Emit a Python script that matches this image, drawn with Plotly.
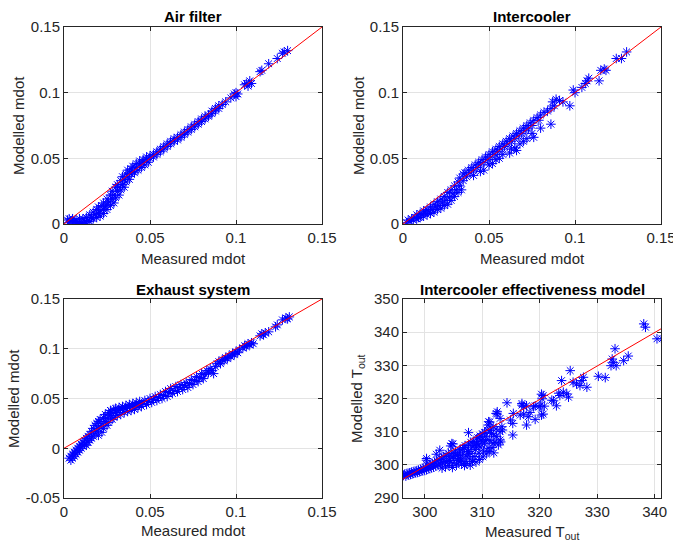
import plotly.graph_objects as go

# Measured vs modelled mass flow (x, y)
air_points = [
    (0.002, 0.003), (0.003, 0.004), (0.003, 0.001), (0.004, 0.002), (0.005, 0.004), (0.005, 0.000),
    (0.006, 0.002), (0.007, 0.003), (0.007, 0.000), (0.008, 0.001), (0.009, 0.004), (0.009, -0.001),
    (0.010, 0.001), (0.011, 0.004), (0.011, 0.000), (0.012, 0.002), (0.013, 0.005), (0.013, 0.001),
    (0.014, 0.003), (0.015, 0.007), (0.015, 0.002), (0.016, 0.005), (0.017, 0.009), (0.017, 0.004),
    (0.018, 0.007), (0.019, 0.011), (0.019, 0.005), (0.020, 0.008), (0.020, 0.013), (0.021, 0.010),
    (0.021, 0.006), (0.022, 0.014), (0.023, 0.011), (0.023, 0.016), (0.023, 0.008), (0.024, 0.013),
    (0.025, 0.019), (0.025, 0.011), (0.025, 0.015), (0.026, 0.017), (0.027, 0.022), (0.027, 0.014),
    (0.028, 0.019), (0.028, 0.025), (0.029, 0.016), (0.029, 0.022), (0.030, 0.028), (0.030, 0.020),
    (0.031, 0.025), (0.031, 0.030), (0.032, 0.022), (0.032, 0.028), (0.033, 0.033), (0.033, 0.026),
    (0.034, 0.030), (0.034, 0.036), (0.035, 0.028), (0.035, 0.034), (0.036, 0.038), (0.036, 0.032),
    (0.037, 0.036), (0.037, 0.041), (0.038, 0.034), (0.038, 0.039), (0.039, 0.042), (0.039, 0.038),
    (0.040, 0.040), (0.040, 0.044), (0.041, 0.039), (0.042, 0.043), (0.042, 0.046), (0.043, 0.041),
    (0.044, 0.045), (0.044, 0.048), (0.045, 0.043), (0.046, 0.047), (0.046, 0.049), (0.047, 0.045),
    (0.048, 0.049), (0.048, 0.051), (0.049, 0.047), (0.050, 0.050), (0.050, 0.052), (0.052, 0.051),
    (0.052, 0.053), (0.054, 0.053), (0.054, 0.055), (0.056, 0.055), (0.056, 0.057), (0.058, 0.057),
    (0.058, 0.059), (0.060, 0.059), (0.060, 0.061), (0.062, 0.061), (0.062, 0.063), (0.064, 0.063),
    (0.064, 0.065), (0.066, 0.064), (0.066, 0.066), (0.068, 0.066), (0.068, 0.068), (0.070, 0.068),
    (0.070, 0.070), (0.072, 0.070), (0.072, 0.072), (0.074, 0.072), (0.074, 0.074), (0.076, 0.074),
    (0.076, 0.076), (0.078, 0.076), (0.078, 0.078), (0.080, 0.078), (0.080, 0.080), (0.082, 0.080),
    (0.082, 0.082), (0.084, 0.082), (0.084, 0.083), (0.086, 0.084), (0.086, 0.086), (0.088, 0.086),
    (0.088, 0.088), (0.090, 0.088), (0.090, 0.090), (0.092, 0.091), (0.094, 0.093), (0.097, 0.096),
    (0.099, 0.099), (0.100, 0.097), (0.100, 0.100), (0.101, 0.099), (0.105, 0.106), (0.106, 0.107),
    (0.107, 0.105), (0.108, 0.109), (0.109, 0.107), (0.114, 0.116), (0.115, 0.117), (0.119, 0.122),
    (0.124, 0.126), (0.127, 0.130), (0.128, 0.131), (0.130, 0.132),
]

intercooler_points = [
    (0.002, 0.001), (0.003, 0.003), (0.004, 0.002), (0.005, 0.004), (0.006, 0.003), (0.007, 0.005),
    (0.008, 0.004), (0.008, 0.007), (0.009, 0.005), (0.010, 0.008), (0.010, 0.005), (0.011, 0.007),
    (0.012, 0.010), (0.012, 0.006), (0.013, 0.009), (0.014, 0.011), (0.014, 0.007), (0.015, 0.010),
    (0.016, 0.013), (0.016, 0.008), (0.017, 0.011), (0.018, 0.015), (0.018, 0.009), (0.019, 0.013),
    (0.020, 0.017), (0.020, 0.011), (0.021, 0.014), (0.022, 0.019), (0.022, 0.012), (0.023, 0.016),
    (0.024, 0.021), (0.024, 0.014), (0.025, 0.018), (0.026, 0.024), (0.026, 0.015), (0.027, 0.020),
    (0.028, 0.026), (0.028, 0.018), (0.029, 0.023), (0.030, 0.029), (0.030, 0.021), (0.031, 0.026),
    (0.032, 0.032), (0.032, 0.024), (0.033, 0.035), (0.033, 0.029), (0.034, 0.026), (0.035, 0.038),
    (0.035, 0.033), (0.036, 0.039), (0.037, 0.036), (0.038, 0.041), (0.039, 0.039), (0.040, 0.043),
    (0.041, 0.041), (0.042, 0.045), (0.043, 0.043), (0.044, 0.047), (0.045, 0.045), (0.046, 0.049),
    (0.047, 0.047), (0.048, 0.051), (0.049, 0.049), (0.050, 0.053), (0.051, 0.051), (0.052, 0.055),
    (0.053, 0.053), (0.054, 0.057), (0.055, 0.055), (0.056, 0.059), (0.057, 0.057), (0.058, 0.061),
    (0.059, 0.059), (0.060, 0.063), (0.061, 0.061), (0.062, 0.065), (0.063, 0.063), (0.064, 0.067),
    (0.065, 0.065), (0.066, 0.069), (0.067, 0.067), (0.068, 0.071), (0.069, 0.069), (0.070, 0.073),
    (0.071, 0.071), (0.072, 0.075), (0.073, 0.073), (0.074, 0.077), (0.075, 0.075), (0.076, 0.079),
    (0.078, 0.081), (0.079, 0.079), (0.080, 0.083), (0.082, 0.085), (0.084, 0.086), (0.086, 0.088),
    (0.087, 0.093), (0.088, 0.090), (0.089, 0.095), (0.091, 0.094), (0.093, 0.093), (0.099, 0.102),
    (0.100, 0.100), (0.104, 0.104), (0.106, 0.107), (0.107, 0.109), (0.108, 0.111), (0.115, 0.117),
    (0.117, 0.118), (0.118, 0.117), (0.124, 0.126), (0.127, 0.126), (0.130, 0.131),
    (0.041, 0.037), (0.045, 0.040), (0.047, 0.041), (0.050, 0.045), (0.052, 0.046), (0.054, 0.049),
    (0.056, 0.050), (0.058, 0.053), (0.062, 0.054), (0.063, 0.057), (0.065, 0.058), (0.066, 0.056),
    (0.068, 0.061), (0.070, 0.063), (0.072, 0.065), (0.075, 0.069), (0.076, 0.066), (0.080, 0.073),
    (0.086, 0.076), (0.097, 0.090), (0.114, 0.109),
]

exhaust_points = [
    (0.003, -0.010), (0.004, -0.008), (0.004, -0.012), (0.005, -0.006), (0.005, -0.010), (0.006, -0.004),
    (0.006, -0.008), (0.007, -0.006), (0.007, -0.002), (0.008, -0.004), (0.008, 0.000), (0.009, -0.002),
    (0.009, 0.002), (0.010, 0.000), (0.010, 0.004), (0.011, 0.002), (0.011, 0.006), (0.012, 0.004),
    (0.012, 0.008), (0.013, 0.003), (0.013, 0.010), (0.014, 0.006), (0.014, 0.012), (0.015, 0.008),
    (0.015, 0.014), (0.016, 0.010), (0.016, 0.017), (0.017, 0.012), (0.017, 0.020), (0.018, 0.015),
    (0.018, 0.023), (0.019, 0.017), (0.019, 0.025), (0.020, 0.020), (0.020, 0.027), (0.020, 0.013),
    (0.021, 0.022), (0.021, 0.029), (0.022, 0.016), (0.022, 0.025), (0.023, 0.031), (0.023, 0.020),
    (0.024, 0.027), (0.024, 0.034), (0.025, 0.023), (0.025, 0.030), (0.026, 0.036), (0.026, 0.026),
    (0.027, 0.033), (0.027, 0.038), (0.028, 0.029), (0.028, 0.035), (0.029, 0.039), (0.029, 0.031),
    (0.030, 0.036), (0.030, 0.040), (0.031, 0.033), (0.032, 0.038), (0.032, 0.041), (0.033, 0.034),
    (0.034, 0.039), (0.034, 0.042), (0.035, 0.036), (0.036, 0.040), (0.036, 0.043), (0.037, 0.037),
    (0.038, 0.041), (0.038, 0.044), (0.039, 0.038), (0.040, 0.042), (0.040, 0.045), (0.041, 0.039),
    (0.042, 0.043), (0.042, 0.046), (0.043, 0.041), (0.044, 0.044), (0.044, 0.047), (0.045, 0.042),
    (0.046, 0.045), (0.047, 0.048), (0.048, 0.044), (0.049, 0.047), (0.050, 0.050), (0.051, 0.046),
    (0.052, 0.049), (0.053, 0.052), (0.054, 0.048), (0.055, 0.051), (0.056, 0.054), (0.057, 0.050),
    (0.058, 0.053), (0.059, 0.057), (0.060, 0.052), (0.061, 0.056), (0.062, 0.060), (0.063, 0.055),
    (0.064, 0.058), (0.065, 0.062), (0.066, 0.057), (0.067, 0.061), (0.068, 0.064), (0.069, 0.059),
    (0.070, 0.063), (0.071, 0.066), (0.072, 0.061), (0.073, 0.065), (0.074, 0.069), (0.075, 0.064),
    (0.076, 0.068), (0.077, 0.072), (0.078, 0.067), (0.079, 0.071), (0.080, 0.075), (0.081, 0.070),
    (0.082, 0.074), (0.083, 0.078), (0.084, 0.076), (0.085, 0.080), (0.086, 0.078), (0.087, 0.075),
    (0.088, 0.082), (0.089, 0.085), (0.090, 0.087), (0.091, 0.085), (0.092, 0.089), (0.093, 0.088),
    (0.094, 0.091), (0.095, 0.090), (0.096, 0.093), (0.097, 0.092), (0.098, 0.095), (0.099, 0.094),
    (0.100, 0.097), (0.101, 0.096), (0.102, 0.099), (0.104, 0.101), (0.105, 0.103), (0.106, 0.102),
    (0.107, 0.105), (0.108, 0.104), (0.109, 0.106), (0.110, 0.105), (0.114, 0.113), (0.115, 0.115),
    (0.116, 0.114), (0.117, 0.116), (0.119, 0.117), (0.123, 0.122), (0.124, 0.124), (0.127, 0.129),
    (0.129, 0.131), (0.130, 0.130), (0.131, 0.132),
]

# Intercooler outlet temperature, measured vs modelled
effect_points = [
    (296.3, 296.8), (296.5, 297.2), (296.7, 296.6), (296.9, 297.4), (297.1, 296.9), (297.3, 297.6),
    (297.5, 297.1), (297.7, 297.8), (297.9, 297.3), (298.1, 298.0), (298.3, 297.5), (298.5, 298.2),
    (298.7, 297.7), (298.9, 298.4), (299.1, 297.9), (299.3, 298.7), (299.5, 298.1), (299.7, 299.0),
    (299.9, 298.3), (300.1, 299.3), (300.3, 298.5), (300.5, 299.6), (300.7, 298.8), (300.9, 300.0),
    (301.1, 299.0), (301.3, 300.4), (301.5, 299.3), (301.7, 300.8), (301.9, 299.6), (302.1, 301.2),
    (302.3, 299.9), (302.5, 301.6), (302.7, 300.3), (302.9, 302.0), (303.1, 300.6), (303.3, 302.5),
    (303.5, 301.0), (303.7, 302.9), (303.9, 300.8), (304.1, 303.4), (304.3, 301.3), (304.5, 302.0),
    (304.7, 303.6), (304.9, 300.5), (305.1, 301.9), (305.3, 304.2), (305.5, 299.9), (305.7, 302.8),
    (305.9, 300.8), (306.1, 304.6), (306.3, 301.5), (306.4, 300.2), (306.6, 303.2), (306.8, 305.2),
    (307.0, 301.0), (307.2, 302.6), (307.4, 304.1), (307.6, 306.0), (307.8, 301.8), (308.0, 303.4),
    (308.2, 305.3), (308.4, 307.0), (308.6, 302.5), (308.8, 304.6), (309.0, 306.4), (309.2, 308.2),
    (309.4, 303.5), (309.6, 305.4), (309.8, 307.5), (310.0, 309.4), (310.2, 304.2), (310.4, 306.5),
    (310.6, 308.6), (310.8, 310.5), (311.0, 305.0), (311.3, 307.3), (311.6, 309.5), (311.9, 311.5),
    (312.2, 306.8), (312.5, 308.5), (312.8, 306.0), (313.1, 310.0),
    (303.0, 299.0), (303.6, 299.4), (304.2, 299.8), (304.8, 299.2), (305.0, 302.6), (305.8, 301.3),
    (306.2, 302.0), (306.9, 299.8), (307.3, 300.4), (307.9, 299.9), (308.3, 301.0), (308.9, 300.8),
    (309.5, 301.6), (310.1, 302.4), (310.7, 303.3), (311.2, 304.0), (311.7, 305.2), (312.0, 303.6),
    (305.4, 303.0), (306.0, 303.6), (306.6, 304.8), (307.0, 305.8), (307.6, 304.0), (308.0, 306.8),
    (308.6, 305.8), (309.0, 307.8), (309.4, 306.0), (310.0, 307.0), (310.4, 309.8), (310.8, 307.6),
    (311.4, 310.4), (312.0, 309.0), (312.4, 310.8),
    (300.3, 301.4), (300.3, 301.9), (302.0, 303.2), (302.6, 304.4), (304.7, 306.4), (304.5, 305.7),
    (304.9, 306.3), (307.6, 309.7), (309.6, 308.7), (311.1, 313.0), (311.3, 312.9), (311.0, 312.0),
    (312.4, 315.5), (312.6, 315.3), (312.6, 316.0), (313.1, 314.0), (313.4, 311.5), (313.5, 310.5),
    (313.2, 306.9), (314.3, 318.7), (315.4, 315.5), (314.9, 313.5), (315.3, 312.5), (315.3, 309.0),
    (313.1, 307.5), (311.9, 306.5), (316.9, 318.0), (316.6, 315.0), (317.2, 317.5), (316.9, 318.5),
    (317.7, 312.0), (318.0, 314.5), (318.3, 315.8), (317.2, 315.3), (317.7, 317.8), (318.9, 317.5),
    (319.2, 313.7), (319.2, 317.8), (319.9, 317.5), (320.1, 317.8), (320.3, 315.0), (320.6, 315.3),
    (320.8, 317.7), (320.3, 321.3), (320.6, 320.9), (320.4, 319.9), (322.1, 319.5), (322.4, 319.3),
    (322.9, 317.8), (323.5, 320.9), (324.1, 321.9), (324.7, 321.4), (325.0, 320.4), (323.3, 321.6),
    (323.8, 325.4), (325.3, 328.4), (325.8, 324.9), (326.4, 324.4), (327.0, 323.9), (327.6, 326.4),
    (327.3, 325.4), (328.2, 323.4), (330.2, 326.7), (331.4, 326.3), (332.6, 331.9), (332.8, 330.9),
    (332.4, 329.9), (333.3, 329.9), (333.1, 335.0), (334.6, 331.4), (335.4, 332.8), (338.1, 342.5),
    (338.4, 341.5), (340.4, 338.0), (341.3, 338.0),
]

# reference lines (red)
mdot_line_x = [0, 0.15]
mdot_line_y = [0, 0.15]
effect_line_x = [296.2, 341.1]
effect_line_y = [295.7, 341.0]

mdot_ticks = [0, 0.05, 0.1, 0.15]
mdot_ticktext = ["0", "0.05", "0.1", "0.15"]
exhaust_yticks = [-0.05, 0, 0.05, 0.1, 0.15]
exhaust_yticktext = ["-0.05", "0", "0.05", "0.1", "0.15"]
temp_xticks = [300, 310, 320, 330, 340]
temp_yticks = [290, 300, 310, 320, 330, 340, 350]

W, H = 673, 544
FONT = "Liberation Sans"
AX_COLOR = "#262626"


def px_x(p):
    return p / W


def px_y(p):
    return 1 - p / H


def axis_style(domain, rng, ticks, ticktext, anchor):
    return dict(
        domain=domain, range=rng, anchor=anchor, automargin=False,
        tickvals=ticks, ticktext=ticktext, ticklabeloverflow="allow",
        showgrid=True, gridcolor="#e3e3e3", gridwidth=1,
        zeroline=False, showline=True, linecolor=AX_COLOR, linewidth=1,
        mirror="ticks", ticks="inside", ticklen=4, tickcolor=AX_COLOR,
        tickfont=dict(family=FONT, size=15, color=AX_COLOR),
    )


def add_panel(fig, points, line_x, line_y, n):
    xs = [p[0] for p in points]
    ys = [p[1] for p in points]
    suffix = "" if n == 1 else str(n)
    fig.add_trace(go.Scatter(
        x=xs, y=ys, mode="markers", xaxis="x" + suffix, yaxis="y" + suffix,
        marker=dict(symbol="asterisk-open", size=8, color="#0000ff",
                    line=dict(color="#0000ff", width=1)),
        showlegend=False))
    fig.add_trace(go.Scatter(
        x=line_x, y=line_y, mode="lines", xaxis="x" + suffix, yaxis="y" + suffix,
        line=dict(color="#ff0000", width=1), showlegend=False))


fig = go.Figure()
add_panel(fig, air_points, mdot_line_x, mdot_line_y, 1)
add_panel(fig, intercooler_points, mdot_line_x, mdot_line_y, 2)
add_panel(fig, exhaust_points, mdot_line_x, mdot_line_y, 3)
add_panel(fig, effect_points, effect_line_x, effect_line_y, 4)

left_dom = [px_x(64), px_x(322)]
right_dom = [px_x(403), px_x(661)]
top_dom = [px_y(224), px_y(27)]
bot_dom = [px_y(498), px_y(299)]

fig.update_layout(
    width=W, height=H, margin=dict(l=0, r=0, t=0, b=0, autoexpand=False),
    paper_bgcolor="white", plot_bgcolor="white",
    xaxis=axis_style(left_dom, [0, 0.15], mdot_ticks, mdot_ticktext, "y"),
    yaxis=axis_style(top_dom, [0, 0.15], mdot_ticks, mdot_ticktext, "x"),
    xaxis2=axis_style(right_dom, [0, 0.15], mdot_ticks, mdot_ticktext, "y2"),
    yaxis2=axis_style(top_dom, [0, 0.15], mdot_ticks, mdot_ticktext, "x2"),
    xaxis3=axis_style(left_dom, [0, 0.15], mdot_ticks, mdot_ticktext, "y3"),
    yaxis3=axis_style(bot_dom, [-0.05, 0.15], exhaust_yticks, exhaust_yticktext, "x3"),
    xaxis4=axis_style(right_dom, [296.2, 341.1], temp_xticks, [str(t) for t in temp_xticks], "y4"),
    yaxis4=axis_style(bot_dom, [290, 350], temp_yticks, [str(t) for t in temp_yticks], "x4"),
)

titles = [("Air filter", 193, 16), ("Intercooler", 532, 16),
          ("Exhaust system", 193, 289), ("Intercooler effectiveness model", 532, 289)]
for text, x, y in titles:
    fig.add_annotation(text="<b>" + text + "</b>", x=px_x(x), y=px_y(y), xref="paper", yref="paper",
                       showarrow=False, xanchor="center", yanchor="middle",
                       font=dict(family=FONT, size=15, color="black"))

xlabels = [("Measured mdot", 193, 258), ("Measured mdot", 532, 258),
           ("Measured mdot", 193, 530), ("Measured T<sub>out</sub>", 532, 532)]
for text, x, y in xlabels:
    fig.add_annotation(text=text, x=px_x(x), y=px_y(y), xref="paper", yref="paper",
                       showarrow=False, xanchor="center", yanchor="middle",
                       font=dict(family=FONT, size=15, color=AX_COLOR))

ylabels = [("Modelled mdot", 18.5, 125.5), ("Modelled mdot", 358.5, 125.5),
           ("Modelled mdot", 13.5, 398.5), ("Modelled T<sub>out</sub>", 357.5, 398.5)]
for text, x, y in ylabels:
    fig.add_annotation(text=text, x=px_x(x), y=px_y(y), xref="paper", yref="paper",
                       showarrow=False, xanchor="center", yanchor="middle", textangle=-90,
                       font=dict(family=FONT, size=15, color=AX_COLOR))

# the page has a default 8px body margin; drop it so the figure sits at the corner
fig.write_html("out.html", config={"displayModeBar": False},
               post_script="document.body.style.margin='0';")
